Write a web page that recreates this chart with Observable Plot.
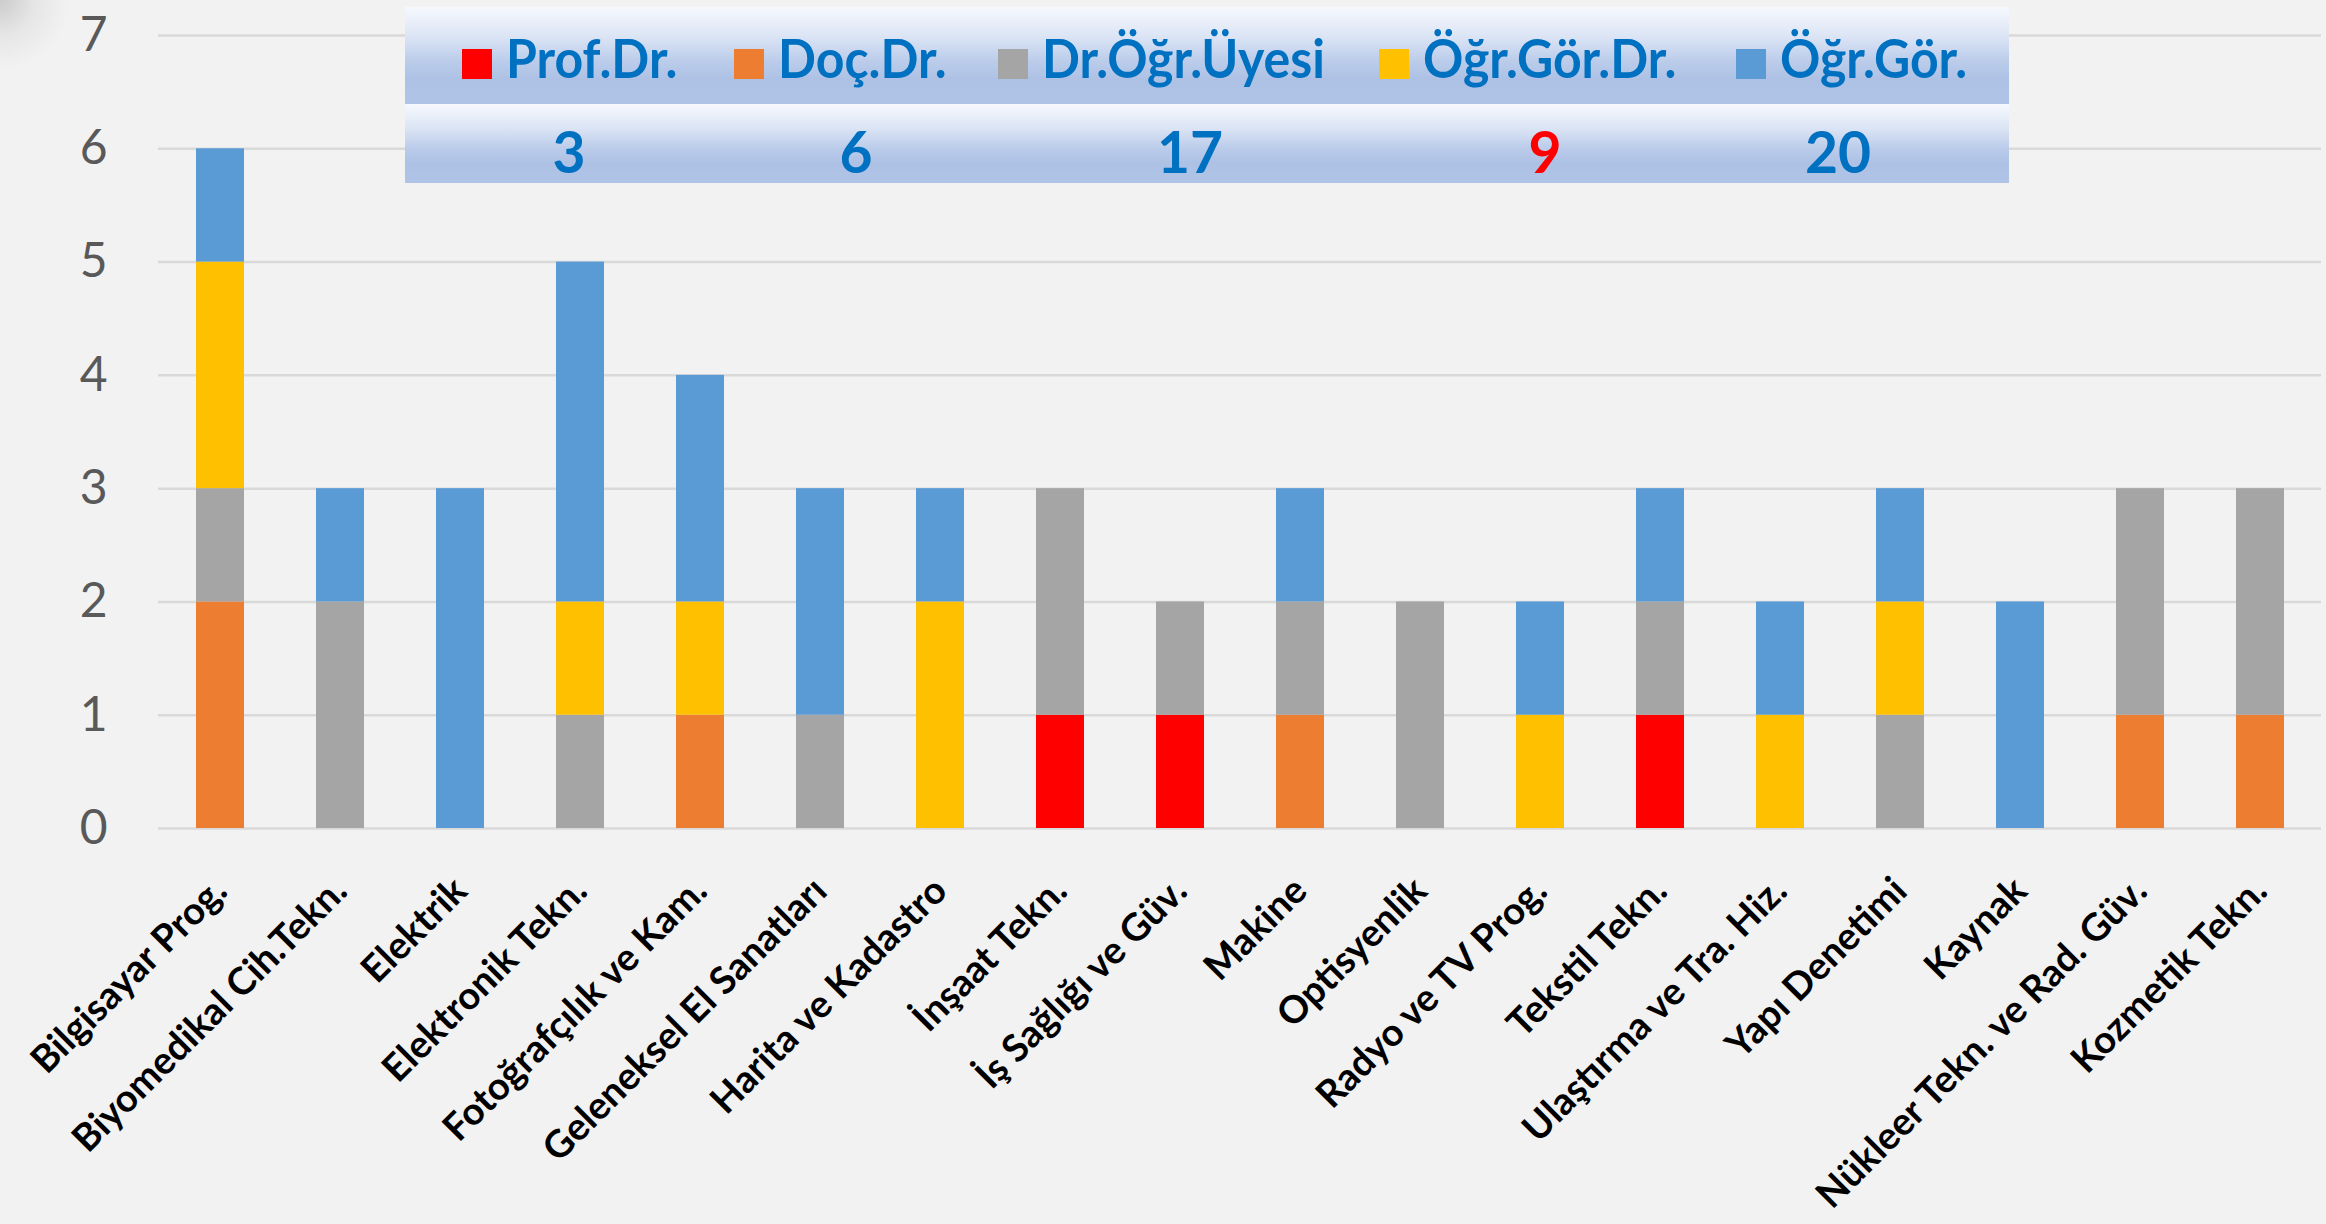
<!DOCTYPE html>
<html>
<head>
<meta charset="utf-8">
<script src="https://cdn.jsdelivr.net/npm/d3@7"></script>
<script src="https://cdn.jsdelivr.net/npm/@observablehq/plot@0.6"></script>
<style>
  html, body { margin: 0; padding: 0; background: #f2f2f2; }
  #wrap { position: relative; width: 2326px; height: 1224px; overflow: hidden; background: #f2f2f2; }
  #shade { position: absolute; left: 0; top: 0; width: 90px; height: 90px;
    background: radial-gradient(circle at 0 0, rgba(0,0,0,0.16) 0px, rgba(0,0,0,0.05) 35px, rgba(0,0,0,0) 70px); }
  #chart { position: absolute; left: 0; top: 0; }
  .lgrow { position: absolute; left: 405px; width: 1604px;
    background: linear-gradient(to bottom, #f6f8fd 0%, #dce5f5 30%, #bccdeb 55%, #adc1e5 75%, #b0c4e7 100%); }
  #row1 { top: 7px; height: 97px; }
  #row2 { top: 104px; height: 79px; }
  .item { position: absolute; top: 0; height: 97px; font-family: Lato, sans-serif; font-weight: bold;
    font-size: 50px; color: #0070c0; white-space: nowrap; }
  .sw { position: absolute; top: 42px; width: 30px; height: 30px; }
  .lab { position: absolute; top: 20px; line-height: 66px; transform: scaleY(1.06); transform-origin: left bottom; }
  .num { position: absolute; top: 14px; font-family: Lato, sans-serif; font-weight: bold; font-size: 57px;
    line-height: 66px; transform: translateX(-50%); }
</style>
</head>
<body>
<div id="wrap">
  <div id="shade"></div>
  <div id="chart"></div>
  <div id="row1" class="lgrow"></div>
  <div id="row2" class="lgrow"></div>
</div>
<script>
// ---- data ----
const categories = [
  "Bilgisayar Prog.", "Biyomedikal Cih.Tekn.", "Elektrik", "Elektronik Tekn.",
  "Fotoğrafçılık ve Kam.", "Geleneksel El Sanatları", "Harita ve Kadastro", "İnşaat Tekn.",
  "İş Sağlığı ve Güv.", "Makine", "Optisyenlik", "Radyo ve TV Prog.", "Tekstil Tekn.",
  "Ulaştırma ve Tra. Hiz.", "Yapı Denetimi", "Kaynak", "Nükleer Tekn. ve Rad. Güv.", "Kozmetik Tekn."
];
const seriesNames = ["Prof.Dr.", "Doç.Dr.", "Dr.Öğr.Üyesi", "Öğr.Gör.Dr.", "Öğr.Gör."];
const profDr     = [0,0,0,0,0,0,0,1,1,0,0,0,1,0,0,0,0,0];
const docDr      = [2,0,0,0,1,0,0,0,0,1,0,0,0,0,0,0,1,1];
const drOgrUyesi = [1,2,0,1,0,1,0,2,1,1,2,0,1,0,1,0,2,2];
const ogrGorDr   = [2,0,0,1,1,0,2,0,0,0,0,1,0,1,1,0,0,0];
const ogrGor     = [1,1,3,3,2,2,1,0,0,1,0,1,1,1,1,2,0,0];
const totals     = [3, 6, 17, 9, 20];
const yTicks     = [0,1,2,3,4,5,6,7];

// ---- styles / layout ----
const seriesColors = ["#ff0000", "#ed7d31", "#a5a5a5", "#ffc000", "#5b9bd5"];
const totalColors  = ["#0070c0", "#0070c0", "#0070c0", "#ff0000", "#0070c0"];
const legendSwatchLeft = [57, 329, 593, 974, 1331];
const totalCenters = [164, 451, 785, 1140, 1433];

const seriesData = [profDr, docDr, drOgrUyesi, ogrGorDr, ogrGor];
const rows = [];
categories.forEach((c, i) => {
  seriesNames.forEach((s, j) => {
    const v = seriesData[j][i];
    if (v > 0) rows.push({category: c, series: s, value: v});
  });
});

const chart = Plot.plot({
  width: 2326,
  height: 1224,
  marginLeft: 158,
  marginRight: 5,
  marginTop: 35,
  marginBottom: 396,
  style: {background: "transparent", fontFamily: "Lato, sans-serif", fontSize: "48px", color: "#595959", overflow: "visible"},
  x: {domain: categories, paddingInner: 0.6, paddingOuter: 0.3, axis: null},
  y: {domain: [0, 7], ticks: yTicks, tickSize: 0, tickPadding: 51, label: null, tickFormat: d => String(d)},
  color: {domain: seriesNames, range: seriesColors},
  marks: [
    Plot.ruleY(yTicks, {stroke: "#d9d9d9", strokeWidth: 2.5}),
    Plot.barY(rows, {x: "category", y: "value", fill: "series"}),
    Plot.text(categories, {
      x: d => d, y: () => 0, text: d => d,
      rotate: -45, textAnchor: "end", dy: 56, dx: 0,
      fontSize: 38, fontWeight: "bold", fill: "#000000"
    })
  ]
});
document.getElementById("chart").appendChild(chart);

// ---- legend overlay ----
const row1 = document.getElementById("row1");
seriesNames.forEach((s, j) => {
  const sw = document.createElement("div");
  sw.className = "sw";
  sw.style.left = legendSwatchLeft[j] + "px";
  sw.style.background = seriesColors[j];
  row1.appendChild(sw);
  const lab = document.createElement("div");
  lab.className = "item lab";
  lab.style.left = (legendSwatchLeft[j] + 44) + "px";
  lab.style.height = "66px";
  lab.textContent = s;
  row1.appendChild(lab);
});
const row2 = document.getElementById("row2");
totals.forEach((t, j) => {
  const n = document.createElement("div");
  n.className = "num";
  n.style.left = totalCenters[j] + "px";
  n.style.color = totalColors[j];
  n.textContent = String(t);
  row2.appendChild(n);
});
</script>
</body>
</html>
